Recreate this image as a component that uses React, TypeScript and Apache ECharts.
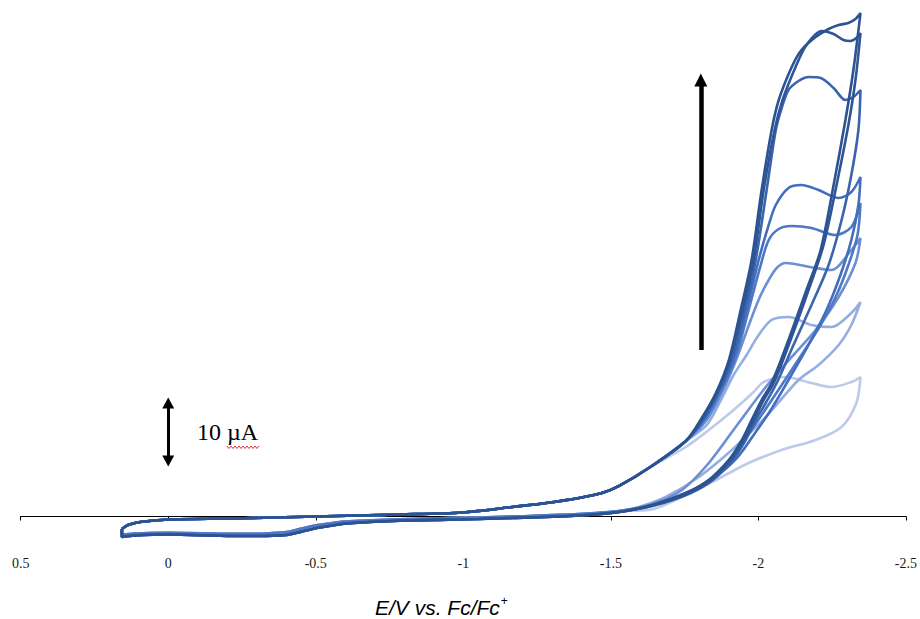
import React, { useEffect, useRef } from 'react';
import * as echarts from 'echarts';

// ---- Text ----
const X_TITLE_MAIN = 'E/V vs. Fc/Fc';
const X_TITLE_SUP = '+';
const SCALE_LABEL = '10 µA';

// ---- Data: [E (V vs Fc/Fc+), I (µA)] ----
// shared forward (cathodic) scan, low-potential region
const FWD_COMMON: [number, number][] = [
  [0.157, -1.84], [0.136, -1.25], [0.096, -0.81], [0.0, -0.45], [-0.219, -0.29],
  [-0.5, 0.0], [-0.784, 0.29], [-0.997, 0.59], [-1.166, 1.4], [-1.281, 1.99],
  [-1.392, 2.72], [-1.47, 3.45], [-1.528, 4.49], [-1.639, 7.43],
];
// shared return scan tails (two slightly different traces)
const TAIL_A: [number, number][] = [
  [-1.528, 0.66], [-1.392, 0.15], [-1.166, -0.22], [-1.054, -0.37], [-0.784, -0.62],
  [-0.614, -1.0], [-0.557, -1.32], [-0.503, -1.7], [-0.445, -2.3], [-0.401, -2.72],
  [-0.334, -2.85], [-0.219, -2.87], [0.0, -2.65], [0.113, -2.79], [0.157, -3.0],
];
const TAIL_B: [number, number][] = [
  [-1.528, 0.8], [-1.392, 0.35], [-1.166, 0.0], [-1.054, -0.15], [-0.784, -0.4],
  [-0.614, -0.7], [-0.557, -0.95], [-0.503, -1.3], [-0.445, -1.85], [-0.401, -2.3],
  [-0.334, -2.5], [-0.219, -2.55], [0.0, -2.4], [0.113, -2.5], [0.157, -2.7],
];

const C1_FWD: [number, number][] = [
  [-1.754, 11.1], [-1.808, 14.49], [-1.856, 18.16], [-1.9, 23.01], [-1.94, 30.37],
  [-1.977, 37.72], [-2.011, 48.01], [-2.045, 56.84], [-2.069, 61.25], [-2.113, 66.1],
  [-2.146, 68.6], [-2.194, 70.51], [-2.238, 71.69], [-2.272, 72.28], [-2.305, 72.57],
  [-2.329, 73.16], [-2.346, 74.04],
];
const C1_RET: [number, number][] = [
  [-2.322, 65.66], [-2.295, 58.31], [-2.255, 48.75], [-2.211, 39.19], [-2.163, 33.31],
  [-2.102, 25.96], [-2.045, 19.63], [-2.011, 17.13], [-1.977, 14.19], [-1.944, 11.25],
  [-1.9, 8.31], [-1.832, 5.37], [-1.754, 3.46], [-1.639, 1.69],
];
const C2_FWD: [number, number][] = [
  [-1.754, 11.1], [-1.812, 14.49], [-1.859, 18.16], [-1.903, 23.01], [-1.947, 30.37],
  [-1.984, 37.72], [-2.018, 48.01], [-2.055, 56.84], [-2.082, 61.25], [-2.126, 66.1],
  [-2.163, 69.34], [-2.214, 71.4], [-2.255, 70.96], [-2.288, 70.07], [-2.312, 69.93],
  [-2.332, 70.37], [-2.346, 71.1],
];
const C2_RET: [number, number][] = [
  [-2.329, 64.19], [-2.305, 57.57], [-2.265, 48.75], [-2.221, 39.93], [-2.17, 33.31],
  [-2.109, 25.96], [-2.052, 19.63], [-2.018, 17.13], [-1.984, 14.19], [-1.95, 11.25],
  [-1.906, 8.31], [-1.839, 5.37], [-1.764, 3.46], [-1.646, 1.69],
];
const C3_FWD: [number, number][] = [
  [-1.754, 11.1], [-1.815, 14.49], [-1.862, 18.16], [-1.91, 23.01], [-1.954, 30.37],
  [-1.991, 37.72], [-2.028, 48.01], [-2.059, 56.84], [-2.079, 60.07], [-2.102, 62.72],
  [-2.136, 64.04], [-2.17, 64.63], [-2.211, 64.49], [-2.255, 63.01], [-2.295, 61.25],
  [-2.322, 61.69], [-2.346, 62.72],
];
const C3_RET: [number, number][] = [
  [-2.339, 56.84], [-2.315, 50.22], [-2.282, 43.6], [-2.238, 36.99], [-2.18, 31.1],
  [-2.119, 25.22], [-2.062, 19.63], [-2.025, 16.69], [-1.991, 14.19], [-1.957, 11.25],
  [-1.913, 8.31], [-1.846, 5.37], [-1.771, 3.46], [-1.653, 1.69],
];
const C4_FWD: [number, number][] = [
  [-1.754, 11.1], [-1.818, 14.49], [-1.866, 18.16], [-1.913, 23.01], [-1.96, 30.37],
  [-2.001, 37.72], [-2.035, 42.87], [-2.059, 45.81], [-2.102, 48.31], [-2.146, 48.75],
  [-2.204, 48.01], [-2.272, 46.84], [-2.315, 47.72], [-2.346, 49.93],
];
const C4_RET: [number, number][] = [
  [-2.339, 45.81], [-2.315, 40.66], [-2.278, 35.51], [-2.231, 30.37], [-2.17, 25.22],
  [-2.102, 20.07], [-2.042, 15.66], [-1.984, 11.99], [-1.927, 8.6], [-1.849, 5.66],
  [-1.764, 3.6], [-1.646, 1.69],
];
const C5_FWD: [number, number][] = [
  [-1.754, 11.1], [-1.822, 14.49], [-1.869, 18.16], [-1.92, 23.01], [-1.967, 30.37],
  [-2.008, 36.99], [-2.035, 40.66], [-2.069, 42.28], [-2.113, 42.72], [-2.18, 42.43],
  [-2.261, 41.4], [-2.315, 42.57], [-2.346, 46.1],
];
const C5_RET: [number, number][] = [
  [-2.336, 41.4], [-2.305, 36.99], [-2.265, 32.57], [-2.211, 28.16], [-2.146, 23.75],
  [-2.079, 19.34], [-2.018, 15.37], [-1.96, 11.69], [-1.9, 8.31], [-1.832, 5.37],
  [-1.754, 3.46], [-1.639, 1.69],
];
const C6_FWD: [number, number][] = [
  [-1.754, 11.1], [-1.825, 14.19], [-1.876, 18.16], [-1.927, 23.31], [-1.974, 28.9],
  [-2.008, 32.57], [-2.035, 34.78], [-2.062, 36.54], [-2.092, 37.28], [-2.194, 36.54],
  [-2.248, 36.25], [-2.315, 39.19], [-2.346, 40.96],
];
const C6_RET: [number, number][] = [
  [-2.329, 37.28], [-2.272, 32.28], [-2.194, 27.43], [-2.113, 23.46], [-2.025, 19.04],
  [-1.933, 13.75], [-1.832, 7.87], [-1.741, 3.9], [-1.639, 1.84],
];
const C7_FWD: [number, number][] = [
  [-1.754, 11.1], [-1.825, 13.46], [-1.873, 17.13], [-1.916, 20.81], [-1.96, 23.75],
  [-2.001, 26.69], [-2.045, 28.9], [-2.102, 29.34], [-2.18, 28.16], [-2.248, 27.87],
  [-2.315, 29.93], [-2.346, 31.54],
];
const C7_RET: [number, number][] = [
  [-2.315, 28.16], [-2.272, 25.22], [-2.204, 22.28], [-2.136, 20.07], [-2.025, 14.63],
  [-1.91, 9.78], [-1.798, 5.81], [-1.686, 2.87], [-1.595, 1.4],
];
const C8_FWD: [number, number][] = [
  [-1.754, 10.22], [-1.832, 12.72], [-1.916, 15.66], [-1.984, 18.31], [-2.018, 19.78],
  [-2.092, 20.51], [-2.18, 19.63], [-2.248, 19.04], [-2.315, 19.78], [-2.346, 20.51],
];
const C8_RET: [number, number][] = [
  [-2.332, 16.69], [-2.282, 13.16], [-2.194, 11.25], [-2.079, 9.78], [-1.967, 7.87],
  [-1.856, 5.37], [-1.741, 2.87], [-1.629, 0.96],
];

// annotation positions in data units
const SCALE_BAR: [number, number][] = [[0, 8.16], [0, 16.69]];
const TREND_ARROW: [number, number][] = [[-1.805, 24.49], [-1.805, 64.19]];

const CYCLES = [
  { name: 'Cycle 1', fwd: C1_FWD, ret: C1_RET, tail: TAIL_A },
  { name: 'Cycle 2', fwd: C2_FWD, ret: C2_RET, tail: TAIL_A },
  { name: 'Cycle 3', fwd: C3_FWD, ret: C3_RET, tail: TAIL_A },
  { name: 'Cycle 4', fwd: C4_FWD, ret: C4_RET, tail: TAIL_A },
  { name: 'Cycle 5', fwd: C5_FWD, ret: C5_RET, tail: TAIL_B },
  { name: 'Cycle 6', fwd: C6_FWD, ret: C6_RET, tail: TAIL_B },
  { name: 'Cycle 7', fwd: C7_FWD, ret: C7_RET, tail: TAIL_B },
  { name: 'Cycle 8', fwd: C8_FWD, ret: C8_RET, tail: TAIL_B },
];
const COLORS = ['#2C5391', '#2F5597', '#3A64AE', '#426EBE', '#4E78C6', '#6B8FD2', '#93AEE0', '#BCCBEA'];

export default function App() {
  const ref = useRef<HTMLDivElement>(null);
  useEffect(() => {
    const chart = echarts.init(ref.current!, null, { renderer: 'svg' });
    const curveSeries: any[] = CYCLES.map((c, i) => ({
      name: c.name,
      type: 'line',
      data: [...FWD_COMMON, ...c.fwd, ...c.ret, ...c.tail, FWD_COMMON[0]],
      showSymbol: false,
      smooth: 0.3,
      lineStyle: { color: COLORS[i], width: 2.6 },
      itemStyle: { color: COLORS[i] },
      z: 10 - i,
    }));
    curveSeries.reverse();
    const top = curveSeries[curveSeries.length - 1];
    top.markLine = {
      silent: true,
      animation: false,
      label: { show: false },
      symbol: ['triangle', 'triangle'],
      symbolSize: [12, 11],
      lineStyle: { color: '#000', width: 3, type: 'solid' },
      data: [[{ coord: SCALE_BAR[0] }, { coord: SCALE_BAR[1] }]],
    };
    const second = curveSeries[curveSeries.length - 2];
    second.markLine = {
      silent: true,
      animation: false,
      label: { show: false },
      symbol: ['none', 'triangle'],
      symbolSize: [13, 13],
      lineStyle: { color: '#000', width: 4.5, type: 'solid' },
      data: [[{ coord: TREND_ARROW[0] }, { coord: TREND_ARROW[1] }]],
    };

    const squiggle: number[][] = [];
    for (let k = 0; k <= 16; k++) squiggle.push([227 + k * 2, k % 2 === 0 ? 446 : 448.5]);

    chart.setOption({
      animation: false,
      backgroundColor: '#fff',
      grid: { left: 20.7, right: 12.3, top: 6.5, bottom: 68.5, containLabel: false },
      xAxis: {
        type: 'value',
        min: -2.5,
        max: 0.5,
        interval: 0.5,
        inverse: true,
        axisLine: { show: true, onZero: true, lineStyle: { color: '#000', width: 1 } },
        axisTick: { show: true, inside: false, length: 4, lineStyle: { color: '#000' } },
        axisLabel: { margin: 6, fontFamily: 'Liberation Serif', fontSize: 14, color: '#1a1a1a' },
        splitLine: { show: false },
      },
      yAxis: { type: 'value', min: -5, max: 75, show: false, splitLine: { show: false } },
      series: curveSeries,
      graphic: [
        {
          type: 'text', x: 375, y: 607,
          style: {
            text: '{a|' + X_TITLE_MAIN + '}{b|' + X_TITLE_SUP + '}',
            align: 'left', verticalAlign: 'middle',
            rich: {
              a: { fontFamily: 'Liberation Sans', fontStyle: 'italic', fontSize: 21, fill: '#000', lineHeight: 24, verticalAlign: 'middle' },
              b: { fontFamily: 'Liberation Sans', fontSize: 12, fill: '#000', lineHeight: 24, verticalAlign: 'top', padding: [0, 0, 0, 1] },
            },
          },
        },
        {
          type: 'text', x: 197, y: 432,
          style: { text: SCALE_LABEL, fontFamily: 'Liberation Serif', fontSize: 24, fill: '#000', align: 'left', verticalAlign: 'middle' },
        },
        {
          type: 'polyline', shape: { points: squiggle },
          style: { stroke: '#e0312f', lineWidth: 1, fill: null },
        },
      ],
    });
    return () => chart.dispose();
  }, []);
  return (
    <div
      ref={ref}
      style={{ position: 'fixed', left: 0, top: 0, width: 920, height: 619, background: '#fff' }}
    />
  );
}
